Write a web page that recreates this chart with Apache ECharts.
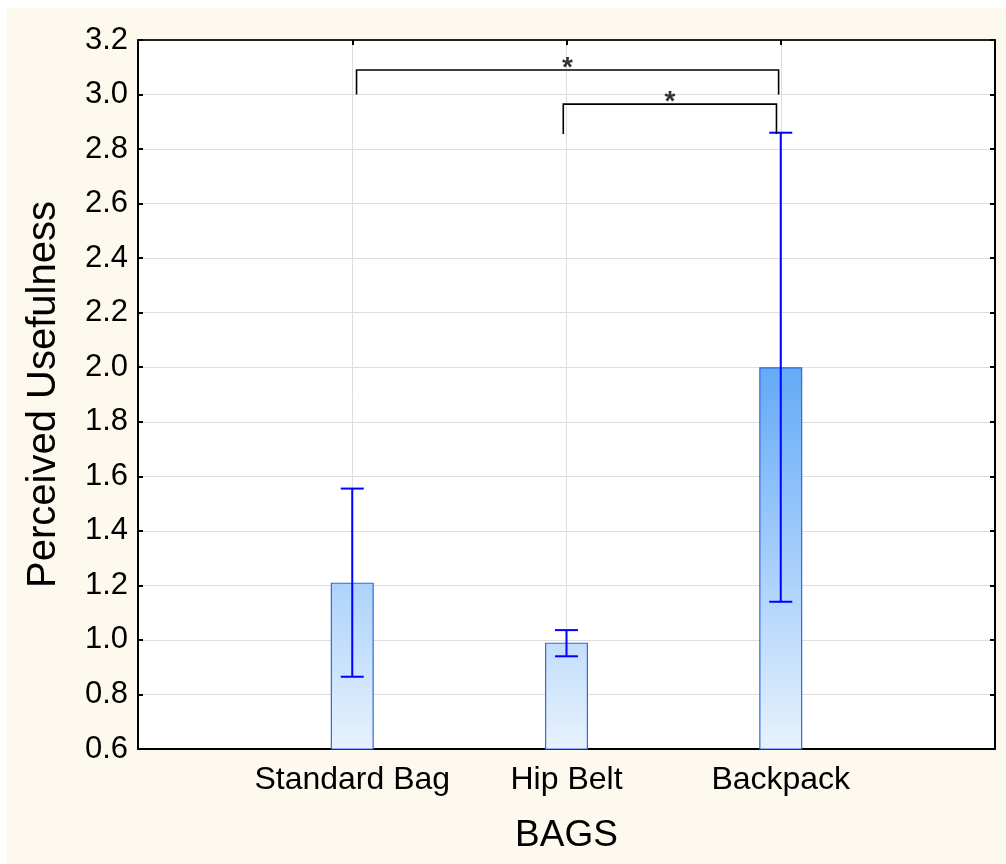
<!DOCTYPE html>
<html>
<head>
<meta charset="utf-8">
<script src="https://cdn.jsdelivr.net/npm/echarts@6/dist/echarts.min.js"></script>
<style>
html,body{margin:0;padding:0;background:#ffffff;}
#chart{width:1006px;height:864px;}
</style>
</head>
<body>
<div id="chart"></div>
<script>
// ---- data ----
const categories = ['Standard Bag', 'Hip Belt', 'Backpack'];
const categoryPositions = [1, 2, 3];
const means = [1.21, 0.99, 2.0];
const errLow = [0.865, 0.94, 1.14];
const errHigh = [1.555, 1.036, 2.86];
const yTicks = [0.6, 0.8, 1.0, 1.2, 1.4, 1.6, 1.8, 2.0, 2.2, 2.4, 2.6, 2.8, 3.0, 3.2];
// significance brackets: [xStart, xEnd, yLow, yHigh]
const bracket1 = [1.02, 2.99, 3.0, 3.09];
const bracket2 = [1.985, 2.98, 2.855, 2.965];
const sigLabel = '*';

const chart = echarts.init(document.getElementById('chart'), null, {renderer: 'canvas'});
const FONT = 'Liberation Sans, Arial, sans-serif';

const barGradient = {
  type: 'linear', x: 0, y: 367, x2: 0, y2: 749, global: true,
  colorStops: [{offset: 0, color: '#63aaf7'}, {offset: 1, color: '#e7f2fe'}]
};

function bracketCoords(b) {
  return [[b[0], b[2]], [b[0], b[3]], [b[1], b[3]], [b[1], b[2]]];
}

const axisLineStyle = {color: '#000', width: 2};

chart.setOption({
  animation: false,
  backgroundColor: 'transparent',
  graphic: [{
    type: 'rect', z: -100, silent: true,
    shape: {x: 7, y: 8, width: 999, height: 856},
    style: {fill: '#fef9ef'}
  }],
  grid: {left: 138, top: 40, right: 11, bottom: 115, show: true, backgroundColor: '#ffffff', borderWidth: 0},
  xAxis: [{
    type: 'value', min: 0, max: 4, interval: 1, position: 'bottom',
    name: 'BAGS', nameLocation: 'middle', nameGap: 68,
    nameTextStyle: {fontFamily: FONT, fontSize: 37, color: '#000'},
    axisLine: {show: true, onZero: false, lineStyle: axisLineStyle},
    axisTick: {show: true, inside: true, length: 5, lineStyle: {color: '#000', width: 2}},
    axisLabel: {
      fontFamily: FONT, fontSize: 32, color: '#000', margin: 15,
      formatter: function (v) { const i = categoryPositions.indexOf(v); return i >= 0 ? categories[i] : ''; }
    },
    splitLine: {show: true, lineStyle: {color: '#dedede', width: 1}}
  }, {
    type: 'value', min: 0, max: 4, interval: 1, position: 'top',
    axisLine: {show: true, onZero: false, lineStyle: {color: '#222', width: 2}},
    axisTick: {show: true, inside: true, length: 5, lineStyle: {color: '#000', width: 2}},
    axisLabel: {show: false},
    splitLine: {show: false}
  }],
  yAxis: [{
    type: 'value', min: 0.6, max: 3.2, interval: 0.2, position: 'left',
    name: 'Perceived Usefulness', nameLocation: 'middle', nameGap: 74,
    nameTextStyle: {fontFamily: FONT, fontSize: 40, color: '#000'},
    axisLine: {show: true, onZero: false, lineStyle: axisLineStyle},
    axisTick: {show: true, inside: true, length: 5, lineStyle: {color: '#000', width: 2}},
    axisLabel: {fontFamily: FONT, fontSize: 31, color: '#000', margin: 10,
      formatter: function (v) { return v.toFixed(1); }},
    splitLine: {show: true, lineStyle: {color: '#dedede', width: 1}}
  }, {
    type: 'value', min: 0.6, max: 3.2, interval: 0.2, position: 'right',
    axisLine: {show: true, onZero: false, lineStyle: axisLineStyle},
    axisTick: {show: true, inside: true, length: 5, lineStyle: {color: '#000', width: 2}},
    axisLabel: {show: false},
    splitLine: {show: false}
  }],
  series: [{
    type: 'bar',
    xAxisIndex: 0, yAxisIndex: 0,
    barWidth: 43,
    data: categoryPositions.map((x, i) => [x, means[i]]),
    itemStyle: {color: barGradient, borderColor: '#3068e6', borderWidth: 1.2}
  }, {
    type: 'custom',
    xAxisIndex: 0, yAxisIndex: 0,
    data: categoryPositions.map((x, i) => [x, errLow[i], errHigh[i]]),
    z: 5,
    renderItem: function (params, api) {
      const lo = api.coord([api.value(0), api.value(1)]);
      const hi = api.coord([api.value(0), api.value(2)]);
      const half = 11.5;
      const st = {stroke: '#0000ff', lineWidth: 2};
      return {type: 'group', children: [
        {type: 'line', shape: {x1: hi[0], y1: hi[1], x2: lo[0], y2: lo[1]}, style: st},
        {type: 'line', shape: {x1: hi[0] - half, y1: hi[1], x2: hi[0] + half, y2: hi[1]}, style: st},
        {type: 'line', shape: {x1: lo[0] - half, y1: lo[1], x2: lo[0] + half, y2: lo[1]}, style: st}
      ]};
    }
  }, {
    type: 'lines',
    coordinateSystem: 'cartesian2d',
    xAxisIndex: 0, yAxisIndex: 0,
    polyline: true,
    z: 6,
    lineStyle: {color: '#000', width: 1.6, opacity: 1},
    data: [{coords: bracketCoords(bracket1)}, {coords: bracketCoords(bracket2)}]
  }, {
    type: 'scatter',
    xAxisIndex: 0, yAxisIndex: 0,
    symbolSize: 0,
    z: 7,
    data: [[(bracket1[0] + bracket1[1]) / 2, bracket1[3]], [(bracket2[0] + bracket2[1]) / 2, bracket2[3]]],
    label: {show: true, position: 'inside', offset: [0, -2], formatter: sigLabel,
      fontFamily: FONT, fontSize: 28, fontWeight: 'bold', color: '#000'}
  }]
});
</script>
</body>
</html>
